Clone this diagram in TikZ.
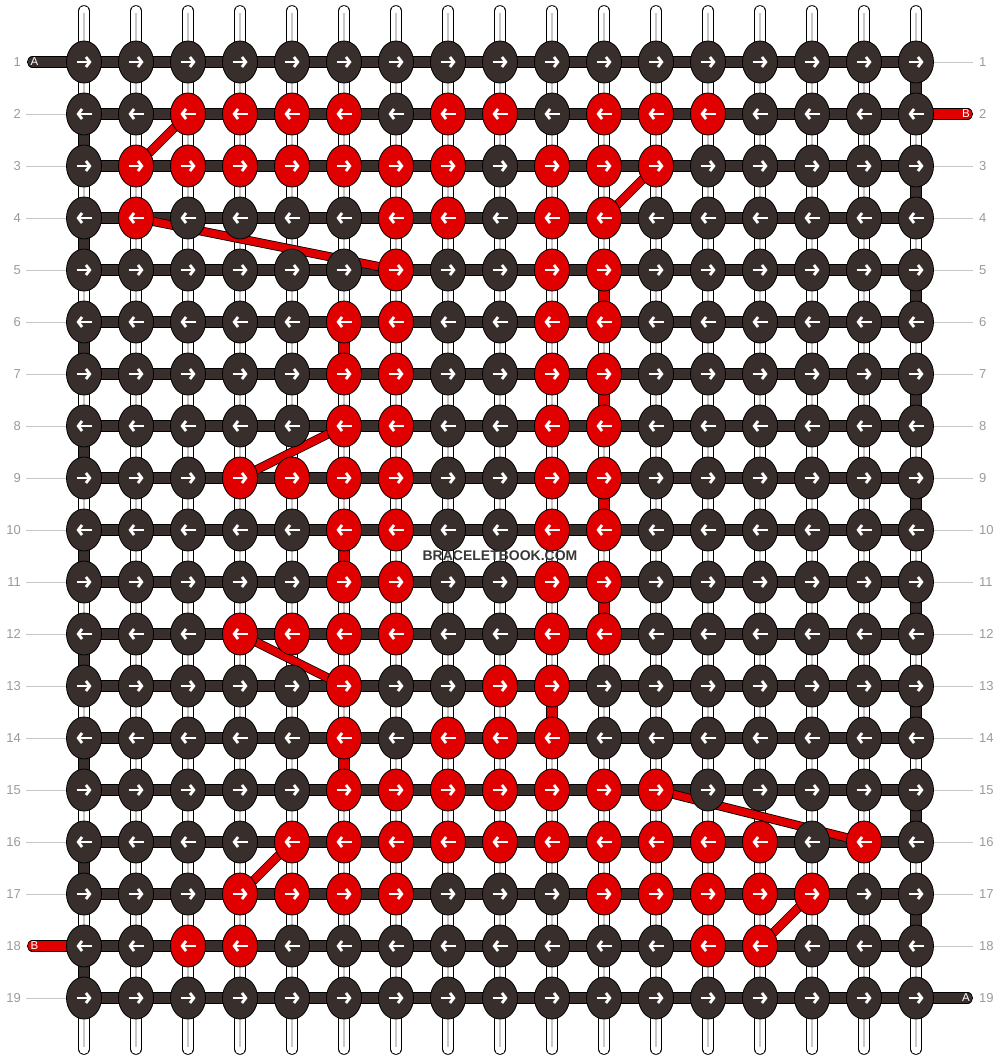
\documentclass[tikz,border=0pt]{standalone}
\usepackage{fontspec}
\setmainfont{Liberation Sans}
\usetikzlibrary{shapes.geometric, arrows.meta, calc}
\definecolor{KnotDark}{HTML}{382F2D}
\definecolor{KnotRed}{HTML}{E00000}
\definecolor{LabelGray}{HTML}{9A9A9A}
\definecolor{GuideGray}{HTML}{C6C6C6}
\definecolor{CoreGray}{HTML}{C8C8C8}
\pgfdeclarelayer{strings}
\pgfsetlayers{strings,main}
\newcommand\markred[2]{\expandafter\gdef\csname redknot-#1-#2\endcsname{}}

\begin{document}
\begin{tikzpicture}[x=1pt, y=-1pt,
    knot/.style={ellipse, draw=black, line width=0.8pt, minimum width=35pt, minimum height=42pt, inner sep=0pt},
    knotarrow/.style={white, line width=2.8pt, -{Straight Barb[length=3.8pt, width=10pt]}},
    thread/.style={draw=black, line width=0.8pt, double distance=9.5pt},
    darkthread/.style={thread, double=KnotDark},
    redthread/.style={thread, double=KnotRed},
    basestring/.style={draw=black, line width=0.8pt, double=white, double distance=10pt, line cap=round},
    basecore/.style={CoreGray, line width=1.4pt, shorten <=2pt, shorten >=2pt},
    guide/.style={GuideGray, line width=0.8pt},
    rowlabel/.style={text=LabelGray, inner sep=0pt, font=\fontsize{13}{13}\selectfont},
    endlabel/.style={text=white, inner sep=0pt, font=\fontsize{11.5}{11.5}\selectfont}
]
\useasboundingbox (0,0) rectangle (1000,1060);

%%%%%%%%%%%%%%%%%%%%%%%%%%%%%%%%%%%%%%%%%%%%%%%%%%%%%%%%%%%%%%%%%%%
% Red knots (row / columns)
%%%%%%%%%%%%%%%%%%%%%%%%%%%%%%%%%%%%%%%%%%%%%%%%%%%%%%%%%%%%%%%%%%%
\foreach \r/\reds in {2/{3,4,5,6,8,9,11,12,13}, 3/{2,3,4,5,6,7,8,10,11,12},
    4/{2,7,8,10,11}, 5/{7,10,11}, 6/{6,7,10,11}, 7/{6,7,10,11}, 8/{6,7,10,11},
    9/{4,5,6,7,10,11}, 10/{6,7,10,11}, 11/{6,7,10,11}, 12/{4,5,6,7,10,11},
    13/{6,9,10}, 14/{6,8,9,10}, 15/{6,7,8,9,10,11,12},
    16/{5,6,7,8,9,10,11,12,13,14,16}, 17/{4,5,6,7,11,12,13,14,15}, 18/{3,4,13,14}}
    {\foreach \c in \reds {\markred{\r}{\c}}}

%%%%%%%%%%%%%%%%%%%%%%%%%%%%%%%%%%%%%%%%%%%%%%%%%%%%%%%%%%%%%%%%%%%
% Knots
%%%%%%%%%%%%%%%%%%%%%%%%%%%%%%%%%%%%%%%%%%%%%%%%%%%%%%%%%%%%%%%%%%%
\foreach \r in {1,...,19}{
    \foreach \c in {1,...,17}{
        \ifcsname redknot-\r-\c\endcsname \def\kfill{KnotRed}\else \def\kfill{KnotDark}\fi
        \node[knot, fill=\kfill] (k-\r-\c) at ({84+52*(\c-1)}, {62+52*(\r-1)}) {};
        \ifodd\r \def\adir{1}\else \def\adir{-1}\fi
        \draw[knotarrow] ($(k-\r-\c.center)+(-7.5*\adir,0)$) -- ($(k-\r-\c.center)+(7.5*\adir,0)$);
    }
}

%%%%%%%%%%%%%%%%%%%%%%%%%%%%%%%%%%%%%%%%%%%%%%%%%%%%%%%%%%%%%%%%%%%
% Strings behind the knots
%%%%%%%%%%%%%%%%%%%%%%%%%%%%%%%%%%%%%%%%%%%%%%%%%%%%%%%%%%%%%%%%%%%
\begin{pgfonlayer}{strings}
% base strings
\foreach \c in {1,...,17}{
    \draw[basestring] ([yshift=51pt]k-1-\c.center) -- ([yshift=-51pt]k-19-\c.center);
    \draw[basecore] ([yshift=51pt]k-1-\c.center) -- ([yshift=-51pt]k-19-\c.center);
}
% rows
\foreach \r in {1,...,19}
    \draw[darkthread] (k-\r-1.center) -- (k-\r-17.center);
% turns at the edges
\foreach \r in {2,4,...,18}{
    \pgfmathtruncatemacro\n{\r+1}
    \draw[darkthread] (k-\r-1.center) -- (k-\n-1.center);
}
\foreach \r in {1,3,...,17}{
    \pgfmathtruncatemacro\n{\r+1}
    \draw[darkthread] (k-\r-17.center) -- (k-\n-17.center);
}
% red string going straight down
\foreach \c/\r/\n in {11/5/6, 11/7/8, 11/9/10, 11/11/12, 6/6/7, 6/10/11, 6/14/15, 10/13/14}
    \draw[redthread] (k-\r-\c.center) -- (k-\n-\c.center);
% red string moving across
\foreach \ra/\ca/\rb/\cb in {2/3/3/2, 3/12/4/11, 4/2/5/7, 8/6/9/4, 12/4/13/6, 15/12/16/16, 16/5/17/4, 17/15/18/14}
    \draw[redthread, double distance=7.5pt] (k-\ra-\ca.center) -- (k-\rb-\cb.center);
\end{pgfonlayer}

%%%%%%%%%%%%%%%%%%%%%%%%%%%%%%%%%%%%%%%%%%%%%%%%%%%%%%%%%%%%%%%%%%%
% Loose ends A and B
%%%%%%%%%%%%%%%%%%%%%%%%%%%%%%%%%%%%%%%%%%%%%%%%%%%%%%%%%%%%%%%%%%%
\coordinate (endA-top) at (32.5,62);
\coordinate (endB-top) at (967.5,114);
\coordinate (endB-bot) at (32.5,946);
\coordinate (endA-bot) at (967.5,998);
\begin{pgfonlayer}{strings}
\draw[darkthread, line cap=round] (endA-top) -- (k-1-1.center);
\draw[redthread, line cap=round] (endB-top) -- (k-2-17.center);
\draw[redthread, line cap=round] (endB-bot) -- (k-18-1.center);
\draw[darkthread, line cap=round] (endA-bot) -- (k-19-17.center);
\end{pgfonlayer}
\node[endlabel] (lab-A-top) at (34.5,62) {A};
\node[endlabel] (lab-B-top) at (966,114) {B};
\node[endlabel] (lab-B-bot) at (34.5,946) {B};
\node[endlabel] (lab-A-bot) at (966,998) {A};

%%%%%%%%%%%%%%%%%%%%%%%%%%%%%%%%%%%%%%%%%%%%%%%%%%%%%%%%%%%%%%%%%%%
% Row numbers
%%%%%%%%%%%%%%%%%%%%%%%%%%%%%%%%%%%%%%%%%%%%%%%%%%%%%%%%%%%%%%%%%%%
\foreach \r in {1,...,19}{
    \node[rowlabel, anchor=east] (num-l-\r) at (21, {62+52*(\r-1)}) {\r};
    \node[rowlabel, anchor=west] (num-r-\r) at (979, {62+52*(\r-1)}) {\r};
    \ifnum\r=1 \else\ifnum\r=18 \else
        \draw[guide] ([xshift=5pt]num-l-\r.east) -- (k-\r-1.west);
    \fi\fi
    \ifnum\r=2 \else\ifnum\r=19 \else
        \draw[guide] (k-\r-17.east) -- ([xshift=-6pt]num-r-\r.west);
    \fi\fi
}

% Watermark
\node[font=\bfseries\fontsize{14}{14}\selectfont, text=black!78] (watermark) at (500,556) {BRACELETBOOK.COM};

\end{tikzpicture}
\end{document}
